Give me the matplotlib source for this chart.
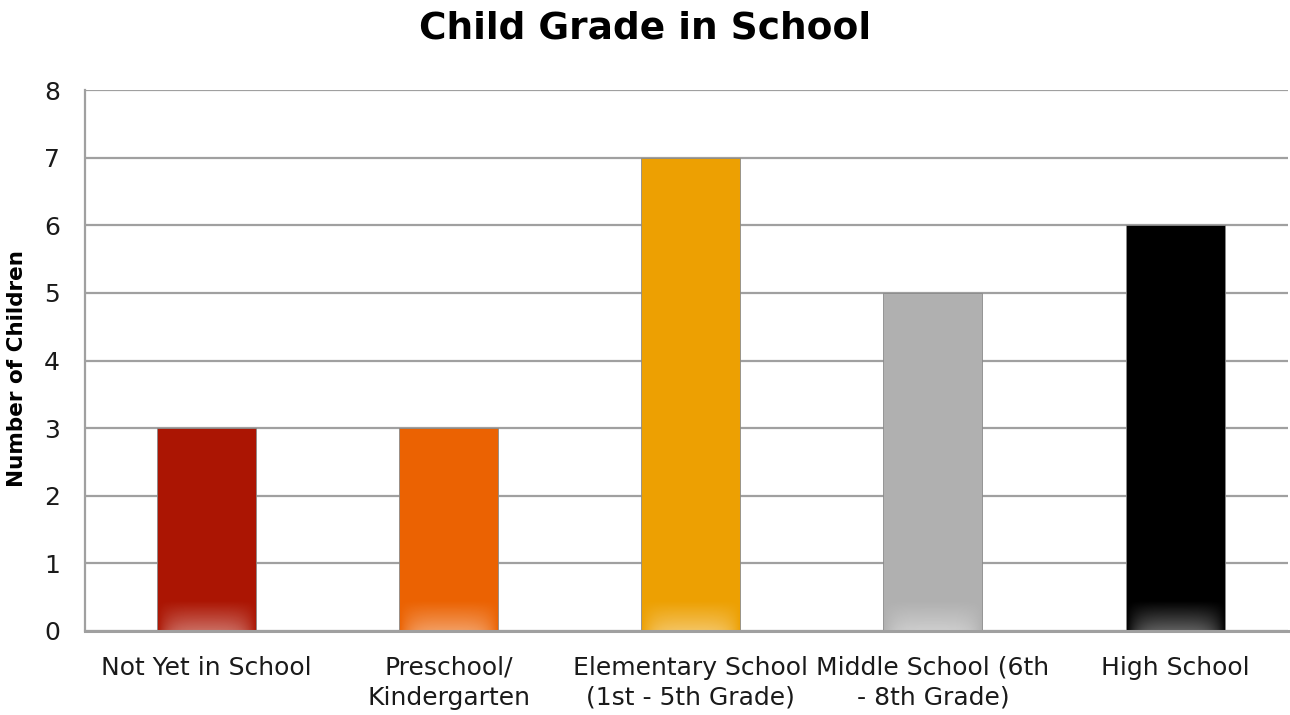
import numpy as np
import matplotlib.pyplot as plt

categories = [
    "Not Yet in School",
    "Preschool/\nKindergarten",
    "Elementary School\n(1st - 5th Grade)",
    "Middle School (6th\n- 8th Grade)",
    "High School",
]
counts = [3, 3, 7, 5, 6]
bar_colors = ["#AB1503", "#EB6202", "#EDA002", "#B0B0B0", "#000000"]
y_ticks = [0, 1, 2, 3, 4, 5, 6, 7, 8]

plt.rcParams['font.family'] = ['DejaVu Sans']

fig = plt.figure(figsize=(12.9, 7.15), dpi=100)
ax = fig.add_axes([0.066, 0.1175, 0.9325, 0.7565])

x = np.arange(len(categories))
width = 0.409
bars = ax.bar(x, counts, width=width, color=bar_colors,
              edgecolor="#8a8a8a", linewidth=0.6, zorder=3)

# soft light glow along the base of each bar
gh = 0.45
ny, nx = 60, 100
yy = np.linspace(0, 1, ny)[:, None]
xx = np.linspace(-1, 1, nx)[None, :]
alpha = (1 - yy) ** 1.1 * np.clip(1 - np.abs(xx) ** 4, 0, 1) * 0.38
for b in bars:
    x0 = b.get_x()
    w = b.get_width()
    rgba = np.ones((ny, nx, 4))
    rgba[..., 3] = alpha
    ax.imshow(rgba, extent=[x0, x0 + w, 0, gh], origin='lower',
              aspect='auto', zorder=4, interpolation='bilinear')

ax.set_xlim(-0.502, 4.467)
ax.set_ylim(0, 8)
ax.set_yticks(y_ticks)
ax.set_xticks(x)
ax.set_xticklabels(categories, fontsize=18, color="#1a1a1a", linespacing=1.3)
ax.tick_params(axis='y', labelsize=18, length=0, pad=18, labelcolor="#1a1a1a")
ax.tick_params(axis='x', length=0, pad=18)

ax.yaxis.grid(True, color="#a0a0a0", linewidth=1.6, zorder=0)
ax.set_axisbelow(True)
for s in ["top", "right"]:
    ax.spines[s].set_visible(False)
ax.spines["left"].set_color("#a0a0a0")
ax.spines["left"].set_linewidth(1.6)
ax.spines["bottom"].set_color("#a0a0a0")
ax.spines["bottom"].set_linewidth(2.2)
ax.spines["bottom"].set_zorder(5)

ax.set_ylabel("Number of Children", fontsize=15.5, fontweight="bold")
ax.yaxis.set_label_coords(-0.048, 0.486)
fig.suptitle("Child Grade in School", fontsize=27, fontweight="bold", y=0.985)

fig.savefig("out.png", dpi=100)
